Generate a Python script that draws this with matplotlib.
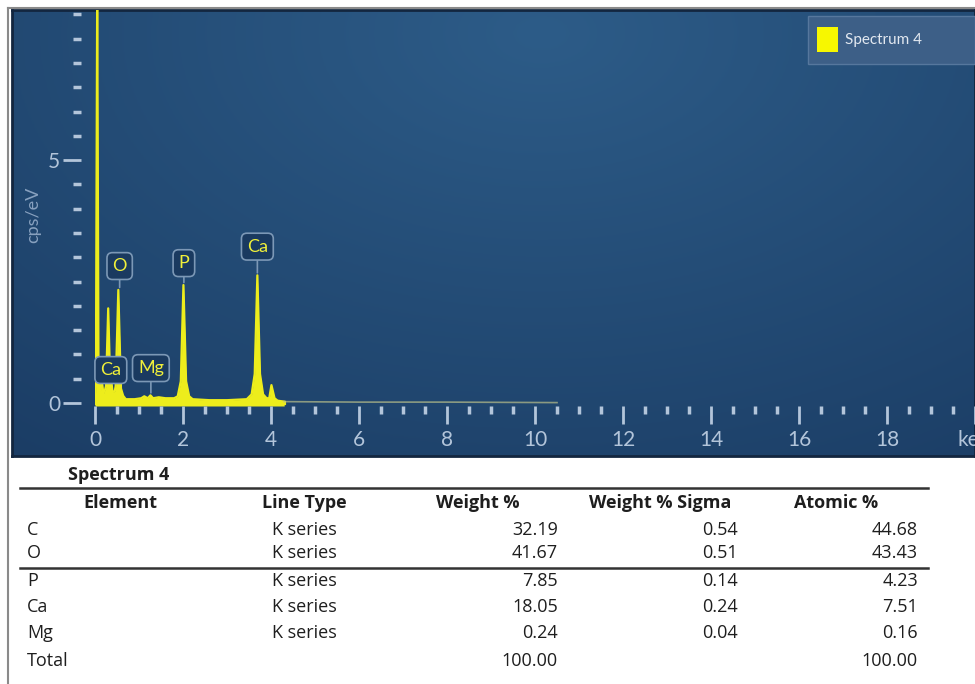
"""EDS spectrum (Spectrum 4) with element quantification table."""
import numpy as np
import matplotlib
matplotlib.use("Agg")
import matplotlib.pyplot as plt
from matplotlib.patches import Rectangle
from matplotlib.colors import to_rgb

# spectrum (keV, cps/eV)
energy = [0.00, 0.02, 0.05, 0.08, 0.12, 0.16, 0.19, 0.23, 0.25, 0.30, 0.35, 0.37,
          0.40, 0.45, 0.47, 0.53, 0.59, 0.64, 0.70, 0.90, 1.05, 1.12, 1.20, 1.26,
          1.32, 1.45, 1.60, 1.80, 1.88, 1.95, 2.01, 2.07, 2.14, 2.22, 2.60, 3.00,
          3.45, 3.56, 3.63, 3.69, 3.75, 3.82, 3.90, 3.96, 4.01, 4.08, 4.15, 4.30]
counts = [0.00, 0.35, 8.50, 0.55, 0.25, 0.42, 0.20, 0.28, 0.35, 1.95, 0.30, 0.45,
          0.22, 0.25, 0.35, 2.33, 0.30, 0.15, 0.08, 0.08, 0.10, 0.14, 0.10, 0.16,
          0.10, 0.12, 0.10, 0.10, 0.14, 0.45, 2.43, 0.45, 0.14, 0.08, 0.06, 0.06,
          0.08, 0.18, 0.60, 2.63, 0.60, 0.18, 0.10, 0.10, 0.37, 0.10, 0.05, 0.03]
tail_energy = [4.30, 6.0, 8.0, 10.5]
tail_counts = [0.03, 0.02, 0.02, 0.01]

# peak labels: text, peak position, peak top, label centre height
peak_names = ["O", "P", "Ca", "Ca", "Mg"]
peak_x = [0.56, 2.02, 3.69, 0.36, 1.27]
peak_top = [2.33, 2.43, 2.63, 0.45, 0.16]
label_y = [2.82, 2.88, 3.22, 0.68, 0.72]

# quantification table
table_title = "Spectrum 4"
headers = ["Element", "Line Type", "Weight %", "Weight % Sigma", "Atomic %"]
elements = ["C", "O", "P", "Ca", "Mg"]
line_types = ["K series", "K series", "K series", "K series", "K series"]
weight = [32.19, 41.67, 7.85, 18.05, 0.24]
sigma = [0.54, 0.51, 0.14, 0.24, 0.04]
atomic = [44.68, 43.43, 4.23, 7.51, 0.16]
total_weight = 100.00
total_atomic = 100.00

W, H = 975, 684
fig = plt.figure(figsize=(W / 100, H / 100), dpi=100)
plt.rcParams['font.family'] = ['Lato', 'DejaVu Sans']
table_font = ['Open Sans', 'DejaVu Sans']


def fx(px):
    return px / W


def fy(py):
    return 1 - py / H


# outer grey frame
fig.add_artist(plt.Line2D([fx(8), fx(8)], [0, fy(8)], color="#8a8a8a", lw=1.5))
fig.add_artist(plt.Line2D([fx(8), 1], [fy(8), fy(8)], color="#8a8a8a", lw=1.5))

# blue gradient panel
bg = fig.add_axes([fx(12), fy(456), fx(975 - 12), (456 - 10) / H])
gx, gy = np.meshgrid(np.linspace(0, 1, 300), np.linspace(0, 1, 200))
d = np.clip(np.sqrt(((gx - 0.55) / 0.9) ** 2 + ((gy - 0.05) / 1.2) ** 2), 0, 1)
light, dark = np.array(to_rgb("#2d5c88")), np.array(to_rgb("#1b3d65"))
img = light[None, None, :] * (1 - d[..., None]) + dark[None, None, :] * d[..., None]
bg.imshow(img, aspect="auto", extent=[0, 1, 0, 1], origin="upper")
bg.set_xticks([])
bg.set_yticks([])
for s in bg.spines.values():
    s.set_color("#13263f")
    s.set_linewidth(2)

# spectrum axes
ax = fig.add_axes([fx(95), fy(406), fx(975 - 95), (406 - 10) / H])
ax.patch.set_alpha(0)
ax.set_xlim(0, 20)
ax.set_ylim(-0.06, 8.09)

yellow = "#eded1c"
ax.fill_between(energy, -0.06, counts, color=yellow, lw=0)
ax.plot(energy, counts, color=yellow, lw=1.6)
ax.plot(energy, np.zeros(len(energy)), color=yellow, lw=3)
ax.plot(tail_energy, tail_counts, color="#b9bf8a", lw=1.2, alpha=0.7)

for name, px, pt, ly in zip(peak_names, peak_x, peak_top, label_y):
    ax.annotate(name, xy=(px, pt + 0.05), xytext=(px, ly),
                ha="center", va="center", color="#f0f03a", fontsize=13,
                bbox=dict(boxstyle="round,pad=0.3", fc="#1a3a60", ec="#7c98b6", lw=1.2),
                arrowprops=dict(arrowstyle="-", color="#7c98b6", lw=1.2,
                                shrinkA=0, shrinkB=0))

for s in ax.spines.values():
    s.set_color("none")
ax.spines["left"].set_position(("outward", 10))
tick_col = "#b3c5da"
ax.set_yticks([0, 5])
ax.set_yticks(np.arange(0, 8.01, 0.5), minor=True)
ax.tick_params(axis="y", which="major", length=13, width=2, color=tick_col,
               labelcolor=tick_col, labelsize=15, pad=2)
ax.tick_params(axis="y", which="minor", length=6, width=2.5, color=tick_col)
ax.set_xticks(np.arange(0, 21, 2))
ax.set_xticklabels([str(v) for v in range(0, 20, 2)] + ["keV"])
ax.set_xticks(np.arange(0, 20.01, 0.5), minor=True)
ax.tick_params(axis="x", which="major", length=13, width=2, color=tick_col,
               labelcolor=tick_col, labelsize=15, pad=4)
ax.tick_params(axis="x", which="minor", length=6, width=2.5, color=tick_col)

fig.text(fx(33), fy(215), "cps/eV", rotation=90, ha="center", va="center",
         color="#88a1bf", fontsize=13)

# legend box
fig.add_artist(Rectangle((fx(808), fy(64)), fx(975 - 808), 48 / H,
                         fc="#3d5f87", ec="#56779d", lw=1))
fig.add_artist(Rectangle((fx(817), fy(52)), fx(21), 25 / H, fc="#f7f700", ec="none"))
fig.text(fx(845), fy(40), "Spectrum 4", color="#e2e8f0", fontsize=11, va="center")

# table
txt = "#1e1e1e"
fs = 13
fig.text(fx(68), fy(475), table_title, fontsize=fs, fontweight="bold", color=txt,
         va="center", family=table_font)
fig.add_artist(plt.Line2D([fx(20), fx(928)], [fy(488), fy(488)], color="#333333", lw=1.8))
fig.add_artist(plt.Line2D([fx(20), fx(928)], [fy(568), fy(568)], color="#333333", lw=1.8))
header_x = [120, 304, 478, 660, 836]
for hx, h in zip(header_x, headers):
    fig.text(fx(hx), fy(503), h, fontsize=fs, fontweight="bold", color=txt,
             ha="center", va="center", family=table_font)

row_y = [530, 553, 581, 607, 633]
cell = dict(fontsize=fs, color=txt, va="center", family=table_font)
for ry, el, lt, w, sg, at in zip(row_y, elements, line_types, weight, sigma, atomic):
    fig.text(fx(27), fy(ry), el, **cell)
    fig.text(fx(272), fy(ry), lt, **cell)
    fig.text(fx(558), fy(ry), f"{w:.2f}", ha="right", **cell)
    fig.text(fx(738), fy(ry), f"{sg:.2f}", ha="right", **cell)
    fig.text(fx(918), fy(ry), f"{at:.2f}", ha="right", **cell)
fig.text(fx(27), fy(661), "Total", **cell)
fig.text(fx(558), fy(661), f"{total_weight:.2f}", ha="right", **cell)
fig.text(fx(918), fy(661), f"{total_atomic:.2f}", ha="right", **cell)

fig.savefig("out.png", dpi=100)
